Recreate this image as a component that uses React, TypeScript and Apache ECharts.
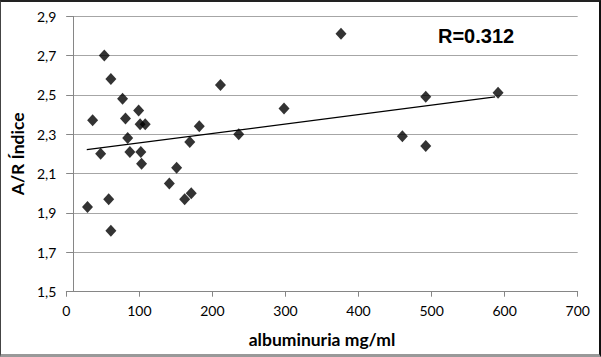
import React, { useEffect, useRef } from "react";
import * as echarts from "echarts";

const albuminuria = [52, 61, 77, 36, 81, 99, 101, 108, 84, 47, 87, 102, 103, 151, 169, 182, 211, 236, 298, 141, 162, 171, 29, 58, 61, 376, 492, 591, 460, 492];
const arIndex = [2.70, 2.58, 2.48, 2.37, 2.38, 2.42, 2.35, 2.35, 2.28, 2.20, 2.21, 2.21, 2.15, 2.13, 2.26, 2.34, 2.55, 2.30, 2.43, 2.05, 1.97, 2.00, 1.93, 1.97, 1.81, 2.81, 2.49, 2.51, 2.29, 2.24];
const trendX = [28, 587];
const trendY = [2.221, 2.489];
const xTicks = { min: 0, max: 700, interval: 100 };
const yTicks = { min: 1.5, max: 2.9, interval: 0.2 };
const rLabel = "R=0.312";
const xTitle = "albuminuria mg/ml";
const yTitle = "A/R Índice";
const yAxisCrossAt = 10;

export default function App() {
  const ref = useRef<HTMLDivElement>(null);
  useEffect(() => {
    document.body.style.margin = "0";
    if (!ref.current) return;
    const chart = echarts.init(ref.current, undefined, { renderer: "svg" });
    const font = "Lato, 'Open Sans', sans-serif";
    chart.setOption({
      animation: false,
      backgroundColor: "#ffffff",
      grid: { left: 64.5, right: 23.3, top: 16, bottom: 65.3 },
      xAxis: {
        type: "value",
        min: xTicks.min,
        max: xTicks.max,
        interval: xTicks.interval,
        name: xTitle,
        nameLocation: "middle",
        nameGap: 39,
        nameTextStyle: { fontFamily: font, fontSize: 17.5, fontWeight: "bold", color: "#000" },
        axisLine: { show: true, onZero: false, lineStyle: { color: "#868686", width: 1 } },
        axisTick: { show: true, length: 5, lineStyle: { color: "#868686" } },
        axisLabel: { margin: 12, fontFamily: font, fontSize: 14, color: "#000" },
        splitLine: { show: false },
      },
      yAxis: {
        type: "value",
        min: yTicks.min,
        max: yTicks.max,
        interval: yTicks.interval,
        name: yTitle,
        nameLocation: "middle",
        nameGap: 36,
        nameTextStyle: { fontFamily: font, fontSize: 17.5, fontWeight: "bold", color: "#000" },
        axisLine: { show: false },
        axisTick: { show: true, inside: true, length: 7, lineStyle: { color: "#868686" } },
        axisLabel: {
          margin: 10,
          fontFamily: font,
          fontSize: 14,
          color: "#000",
          formatter: (v: number) => v.toFixed(1).replace(".", ","),
        },
        splitLine: { show: true, lineStyle: { color: "#a6a6a6", width: 1 } },
      },
      graphic: [
        {
          type: "text",
          left: 438,
          top: 26,
          style: { text: rLabel, font: "bold 20px 'Liberation Sans', Arial, sans-serif", fill: "#000" },
        },
      ],
      series: [
        {
          type: "scatter",
          symbol: "diamond",
          symbolSize: [11, 12],
          itemStyle: { color: "#000" },
          data: albuminuria.map((x, i) => [x, arIndex[i]]),
          markLine: {
            silent: true,
            symbol: "none",
            label: { show: false },
            lineStyle: { color: "#868686", type: "solid", width: 1 },
            data: [{ xAxis: yAxisCrossAt }],
          },
          z: 3,
        },
        {
          type: "line",
          symbol: "none",
          lineStyle: { color: "#000", width: 1.2 },
          data: trendX.map((x, i) => [x, trendY[i]]),
          z: 2,
        },
      ],
    });
    return () => chart.dispose();
  }, []);
  return (
    <div style={{ position: "relative", width: 601, height: 357 }}>
      <div ref={ref} style={{ width: 601, height: 357 }} />
      <div
        style={{
          position: "absolute",
          left: 0,
          top: 0,
          width: 601,
          height: 357,
          boxSizing: "border-box",
          borderLeft: "1px solid #444",
          borderTop: "2px solid #222",
          borderRight: "2px solid #111",
          borderBottom: "3px solid #999",
          pointerEvents: "none",
        }}
      />
    </div>
  );
}
